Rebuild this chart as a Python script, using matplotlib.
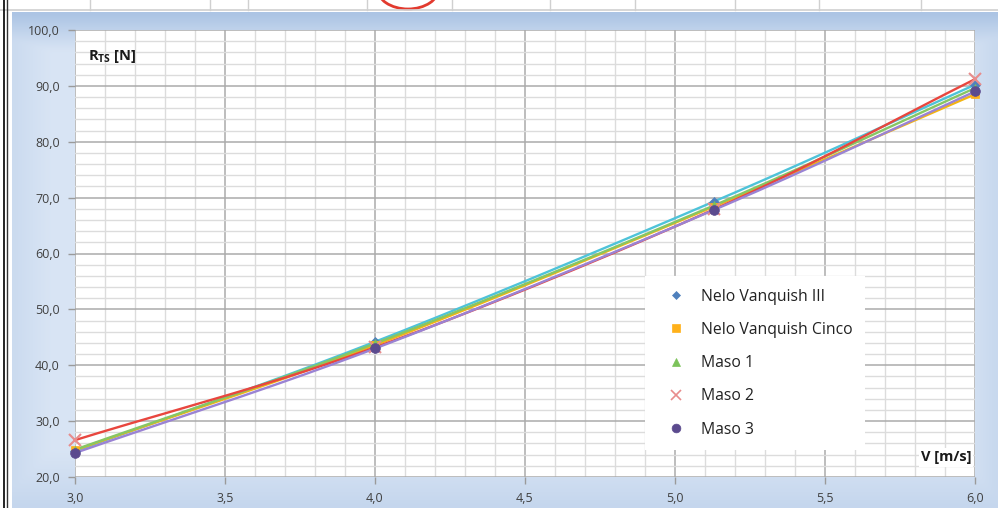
import numpy as np
import matplotlib
matplotlib.use("Agg")
import matplotlib.pyplot as plt
from matplotlib.lines import Line2D
from matplotlib.patches import Ellipse, Rectangle
from matplotlib.ticker import MultipleLocator, FuncFormatter

# ---- data -------------------------------------------------------------
speed = [3.0, 4.0, 5.13, 6.0]
series_names = ["Nelo Vanquish III", "Nelo Vanquish Cinco", "Maso 1", "Maso 2", "Maso 3"]
nelo_iii = [24.6, 44.2, 69.3, 90.2]
nelo_cinco = [24.8, 43.6, 68.4, 88.5]
maso_1 = [24.9, 43.9, 68.6, 89.6]
maso_2 = [26.6, 43.2, 67.9, 91.2]
maso_3 = [24.3, 43.0, 67.8, 89.0]
series_values = [nelo_iii, nelo_cinco, maso_1, maso_2, maso_3]

x_ticks = [3.0, 3.5, 4.0, 4.5, 5.0, 5.5, 6.0]
y_ticks = [20, 30, 40, 50, 60, 70, 80, 90, 100]

# ---- styling ----------------------------------------------------------
line_colors = ["#4EC3D9", "#F3B413", "#86C664", "#E8463E", "#9A83D4"]
marker_colors = ["#4F81BD", "#FFB11A", "#7CC35A", "#E88C8C", "#5B4A8E"]
markers = ["D", "s", "^", "x", "o"]
marker_sizes = [5, 6, 6, 8, 7]

W, H = 998, 508
plt.rcParams["font.family"] = ["Open Sans", "DejaVu Sans"]

fig = plt.figure(figsize=(W / 100, H / 100), dpi=100)
fig.patch.set_facecolor("white")


def smooth(xs, ys, n=60):
    """Catmull-Rom curve through the points (like a spreadsheet smoothed line)."""
    xs = np.asarray(xs, float)
    ys = np.asarray(ys, float)
    P = np.column_stack([xs, ys])
    P = np.vstack([2 * P[0] - P[1], P, 2 * P[-1] - P[-2]])
    out = []
    t = np.linspace(0, 1, n)[:, None]
    for i in range(1, len(P) - 2):
        p0, p1, p2, p3 = P[i - 1], P[i], P[i + 1], P[i + 2]
        seg = 0.5 * ((2 * p1) + (-p0 + p2) * t + (2 * p0 - 5 * p1 + 4 * p2 - p3) * t ** 2
                     + (-p0 + 3 * p1 - 3 * p2 + p3) * t ** 3)
        out.append(seg if i == 1 else seg[1:])
    out = np.vstack(out)
    return out[:, 0], out[:, 1]


# ---- chart-area background (blue gradient) ----------------------------
bg = fig.add_axes([0, 0, 1, 1], zorder=0)
bg.axis("off")
gx, gy = np.meshgrid(np.linspace(0, 1, 200), np.linspace(0, 1, 120))
edge = np.maximum.reduce([
    np.clip(1 - gy / 0.10, 0, 1) * 0.95,
    np.clip((gy - 0.80) / 0.20, 0, 1) * 0.55,
    np.clip(1 - gx / 0.08, 0, 1) * 0.45,
    np.clip((gx - 0.93) / 0.07, 0, 1) * 0.5,
    np.full_like(gx, 0.25),
])
light = np.array([0.91, 0.94, 0.98])
dark = np.array([0.66, 0.76, 0.89])
img = light[None, None, :] * (1 - edge[..., None]) + dark[None, None, :] * edge[..., None]
bg.imshow(img, extent=[12, W, H, 12], aspect="auto", interpolation="bicubic")
bg.set_xlim(0, W)
bg.set_ylim(H, 0)

# ---- plot area --------------------------------------------------------
px_left, px_right, px_top, px_bottom = 75, 975, 30, 477
ax = fig.add_axes([px_left / W, 1 - px_bottom / H,
                   (px_right - px_left) / W, (px_bottom - px_top) / H], zorder=1)
ax.set_facecolor("white")
ax.set_xlim(3.0, 6.0)
ax.set_ylim(20, 100)

ax.xaxis.set_minor_locator(MultipleLocator(0.1))
ax.yaxis.set_minor_locator(MultipleLocator(2))
ax.set_xticks(x_ticks)
ax.set_yticks(y_ticks)
comma = FuncFormatter(lambda v, p: f"{v:.1f}".replace(".", ","))
ax.xaxis.set_major_formatter(comma)
ax.yaxis.set_major_formatter(comma)

ax.grid(which="minor", color="#DCDCDC", lw=1.0)
ax.grid(which="major", color="#ABABAB", lw=1.1)
ax.set_axisbelow(True)
for s in ax.spines.values():
    s.set_visible(False)
ax.tick_params(which="major", length=5, width=1, color="#9A9A9A",
               labelsize=9, labelcolor="#404040", pad=6)
ax.tick_params(which="minor", length=0)
ax.tick_params(axis="y", direction="out")

for vals, lc, mc, mk, ms in zip(series_values, line_colors, marker_colors, markers, marker_sizes):
    sx, sy = smooth(speed, vals)
    ax.plot(sx, sy, color=lc, lw=1.7, zorder=3, solid_capstyle="round", clip_on=False)
    ax.plot(speed, vals, linestyle="none", marker=mk, color=mc, ms=ms,
            mew=1.5 if mk == "x" else 0.5, zorder=4, clip_on=False)

ax.text(0.014, 0.96, r"R$_{\mathregular{TS}}$ [N]", transform=ax.transAxes,
        fontsize=10.5, fontweight="bold", color="#1A1A1A", va="top", ha="left")
ax.text(0.996, 0.028, "V [m/s]", transform=ax.transAxes,
        fontsize=10.5, fontweight="bold", color="#1A1A1A", va="bottom", ha="right",
        bbox=dict(facecolor="white", edgecolor="none", pad=1.5))

handles = [Line2D([], [], linestyle="none", marker=mk, color=mc, ms=ms * 0.9,
                  mew=1.2 if mk == "x" else 0.5)
           for mk, mc, ms in zip(markers, marker_colors, marker_sizes)]
leg = ax.legend(handles, series_names, loc="upper left",
                bbox_to_anchor=((645 - px_left) / (px_right - px_left),
                                1 - (276 - px_top) / (px_bottom - px_top)),
                frameon=True, fancybox=False, framealpha=1.0, facecolor="white",
                edgecolor="none", fontsize=11.3, labelspacing=1.1,
                handletextpad=0.45, handlelength=2.3, borderpad=0.8,
                borderaxespad=0)
for t in leg.get_texts():
    t.set_color("#222222")
leg.get_frame().set_linewidth(0)
leg.set_zorder(5)

# ---- spreadsheet strip above the chart and sheet border --------------
ov = fig.add_axes([0, 0, 1, 1], zorder=3)
ov.set_xlim(0, W)
ov.set_ylim(H, 0)
ov.axis("off")
ov.add_patch(Rectangle((0, 0), W, 12, facecolor="white", edgecolor="none"))
ov.plot([0, W], [9.5, 9.5], color="#D0D0D0", lw=1.2)
for cx in [90, 210, 248, 367, 452, 550, 635, 735, 819, 921]:
    ov.plot([cx, cx], [0, 9.5], color="#D0D0D0", lw=1)
ov.add_patch(Ellipse((408, -12), 62, 42, facecolor="none", edgecolor="#E23A2E", lw=2))
ov.add_patch(Rectangle((0, 12), 12, H - 12, facecolor="white", edgecolor="none"))
ov.plot([4.5, 4.5], [0, H], color="black", lw=1.2)
ov.plot([7.5, 7.5], [0, H], color="#333333", lw=1.0)

fig.savefig("out.png", dpi=100)
